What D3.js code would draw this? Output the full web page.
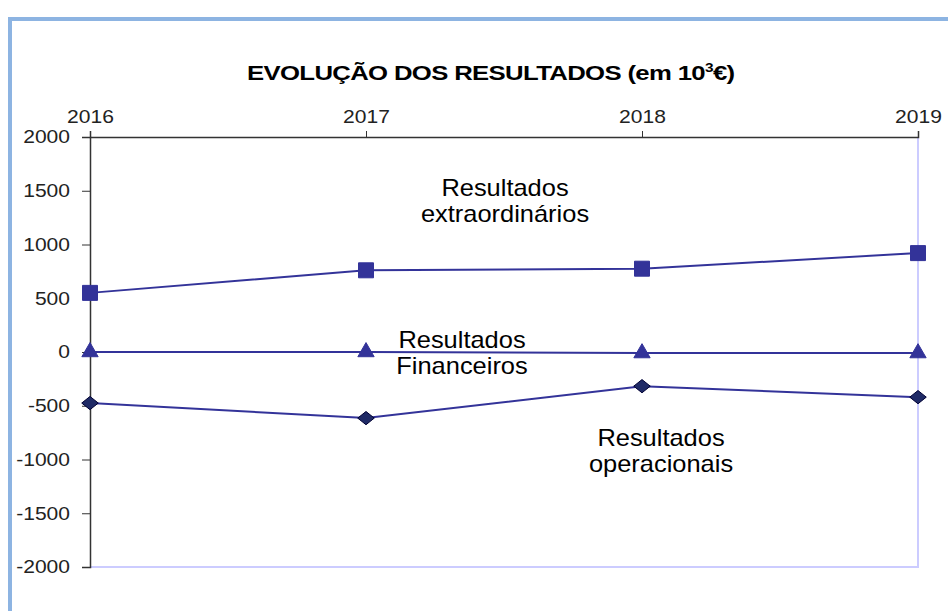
<!DOCTYPE html>
<html>
<head>
<meta charset="utf-8">
<script src="https://cdn.jsdelivr.net/npm/d3@7"></script>
<style>
  body { margin: 0; background: #fff; }
  svg { display: block; font-family: "Liberation Sans", Arial, sans-serif; }
</style>
</head>
<body>
<svg id="chart" width="948" height="611"></svg>
<script>
var anos = ["2016", "2017", "2018", "2019"];
var yTicks = [2000, 1500, 1000, 500, 0, -500, -1000, -1500, -2000];

var extraordinarios = [550, 760, 775, 920];
var financeiros = [0, 0, -10, -10];
var operacionais = [-475, -615, -318, -420];

var esticar = 1.17; // o texto original aparece alargado

var svg = d3.select("#chart");

// moldura exterior
svg.append("path")
  .attr("d", "M10,611 L10,19 L948,19")
  .attr("fill", "none")
  .attr("stroke", "#8db4e2")
  .attr("stroke-width", 4);

var x = d3.scalePoint().domain(anos).range([90, 918]);
var y = d3.scaleLinear().domain([-2000, 2000]).range([567, 137]);

// bordas claras da área
svg.append("path")
  .attr("d", "M90,567 L918,567 L918,137")
  .attr("fill", "none")
  .attr("stroke", "#ccccff")
  .attr("stroke-width", 2);

var gx = svg.append("g")
  .attr("transform", "translate(0," + y(2000) + ")")
  .call(d3.axisTop(x).tickSize(6).tickPadding(8));
gx.select(".domain").attr("stroke", "#333").attr("stroke-width", 1.5);
gx.selectAll(".tick line").attr("stroke", "#333");
gx.selectAll("text").attr("font-size", 18).attr("fill", "#222")
  .attr("font-family", "Liberation Sans, Arial, sans-serif")
  .attr("transform", "scale(" + esticar + ",1)");

var gy = svg.append("g")
  .attr("transform", "translate(" + x("2016") + ",0)")
  .call(d3.axisLeft(y).tickValues(yTicks).tickSize(8).tickPadding(12).tickFormat(d3.format("d")));
gy.select(".domain").attr("stroke", "#333").attr("stroke-width", 1.5);
gy.selectAll(".tick line").attr("stroke", "#333");
gy.selectAll("text").attr("font-size", 18).attr("fill", "#222")
  .attr("font-family", "Liberation Sans, Arial, sans-serif")
  .attr("x", -20 / esticar)
  .attr("transform", "scale(" + esticar + ",1)")
  .text(function(d) { return d < 0 ? "-" + Math.abs(d) : d; });

var linha = d3.line()
  .x(function(d, i) { return x(anos[i]); })
  .y(function(d) { return y(d); });

// losango mais largo que alto
var losango = {
  draw: function(ctx, size) {
    var w = Math.sqrt(size) * 0.6, h = w * 0.8;
    ctx.moveTo(0, -h); ctx.lineTo(w, 0); ctx.lineTo(0, h); ctx.lineTo(-w, 0); ctx.closePath();
  }
};

function serie(dados, simbolo, tamanho, preenche, contorno) {
  svg.append("path")
    .datum(dados)
    .attr("d", linha)
    .attr("fill", "none")
    .attr("stroke", "#333399")
    .attr("stroke-width", 2);
  svg.append("g").selectAll("path")
    .data(dados)
    .enter().append("path")
      .attr("transform", function(d, i) { return "translate(" + x(anos[i]) + "," + y(d) + ")"; })
      .attr("d", d3.symbol().type(simbolo).size(tamanho))
      .attr("fill", preenche)
      .attr("stroke", contorno)
      .attr("stroke-width", 1);
}

serie(extraordinarios, d3.symbolSquare, 225, "#333399", "#333399");
serie(financeiros, d3.symbolTriangle, 115, "#333399", "#333399");
serie(operacionais, losango, 190, "#1f2a66", "#000033");

// título
var titulo = svg.append("text")
  .attr("x", 0)
  .attr("y", 80)
  .attr("font-size", 20)
  .attr("font-weight", "bold")
  .attr("fill", "#000")
  .attr("letter-spacing", -0.5);
titulo.append("tspan").text("EVOLUÇÃO DOS RESULTADOS (em 10");
titulo.append("tspan").attr("font-size", 12).attr("dy", -8).text("3");
titulo.append("tspan").attr("dy", 8).text("€)");
var bb = titulo.node().getBBox();
var sx = 488 / bb.width;
titulo.attr("transform", "translate(" + (247 - bb.x * sx) + ",0) scale(" + sx + ",1)");

// rótulos das séries
var rotulos = [
  { l1: "Resultados", l2: "extraordinários", cx: 505, cy: 196 },
  { l1: "Resultados", l2: "Financeiros", cx: 462, cy: 348 },
  { l1: "Resultados", l2: "operacionais", cx: 661, cy: 446 }
];
rotulos.forEach(function(r) {
  var t = svg.append("text")
    .attr("text-anchor", "middle")
    .attr("font-size", 24)
    .attr("fill", "#000")
    .attr("transform", "translate(" + r.cx + ",0) scale(1.06,1)");
  t.append("tspan").attr("x", 0).attr("y", r.cy).text(r.l1);
  t.append("tspan").attr("x", 0).attr("y", r.cy + 26).text(r.l2);
});
</script>
</body>
</html>
